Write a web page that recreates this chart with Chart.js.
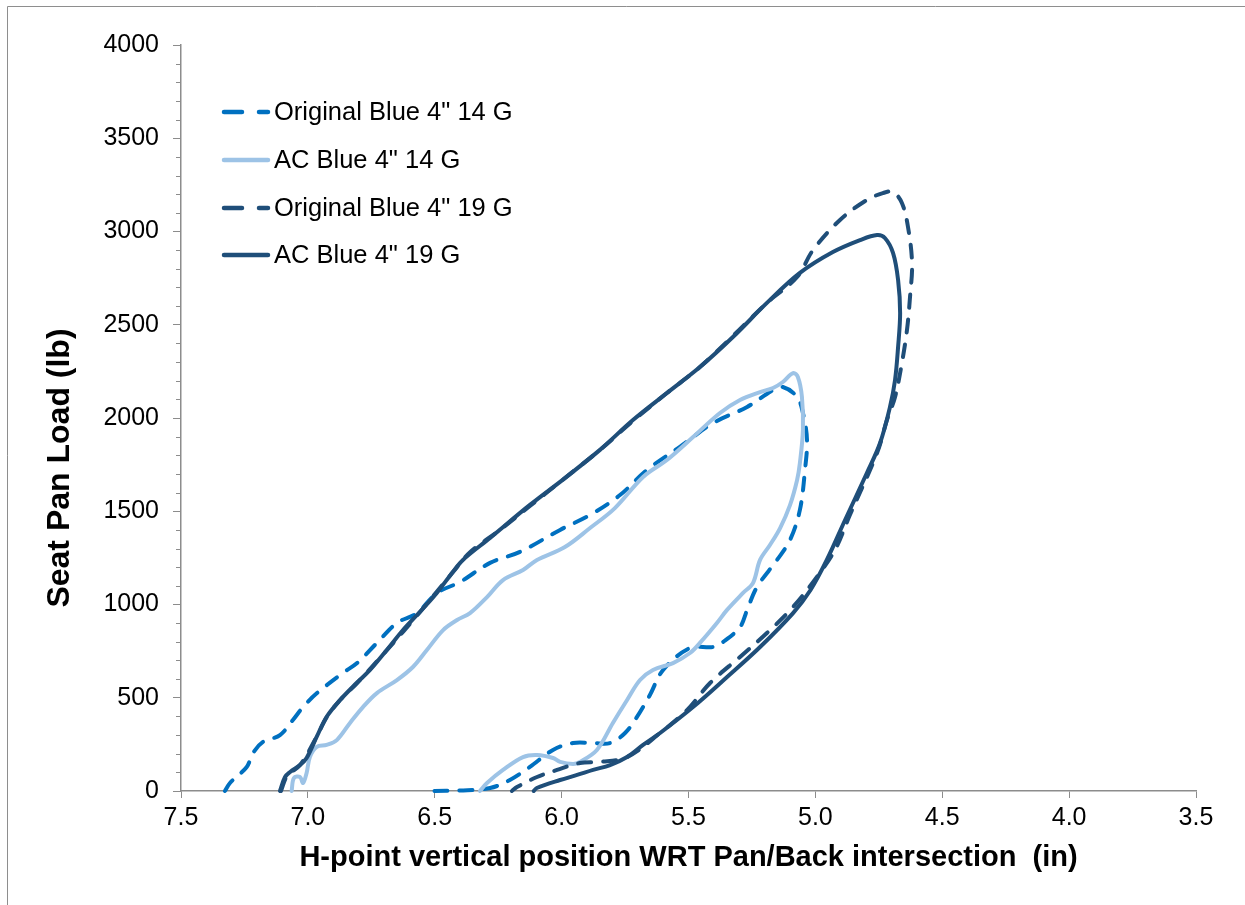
<!DOCTYPE html>
<html><head><meta charset="utf-8">
<script src="https://cdn.jsdelivr.net/npm/chart.js@4.4.1/dist/chart.umd.min.js"></script>
<style>html,body{margin:0;padding:0;background:#fff}</style>
</head><body>
<canvas id="c" width="1245" height="905" style="display:block;width:1245px;height:905px"></canvas>
<script>
// ---- data ----
const seriesNames = ['Original Blue 4" 14 G', 'AC Blue 4" 14 G', 'Original Blue 4" 19 G', 'AC Blue 4" 19 G'];

const orig14X = [7.327,7.307,7.241,7.216,7.177,7.110,7.059,7.019,6.964,6.862,6.806,6.728,6.649,6.570,6.491,6.400,6.282,6.164,6.006,5.888,5.770,5.664,5.534,5.403,5.269,5.167,5.128,5.072,5.049,5.033,5.041,5.061,5.100,5.151,5.230,5.269,5.297,5.364,5.403,5.494,5.600,5.652,5.703,5.750,5.809,5.876,5.955,6.034,6.125,6.204,6.282,6.400,6.511];
const orig14Y = [0,43,129,204,263,300,381,450,525,633,686,794,901,954,1062,1121,1223,1282,1400,1480,1587,1721,1845,1973,2059,2150,2166,2113,2027,1882,1721,1507,1346,1239,1094,971,879,799,772,767,649,515,397,311,257,257,257,220,129,59,16,3,0];

const ac14X = [7.064,7.055,7.031,7.019,7.005,6.992,6.965,6.926,6.886,6.834,6.783,6.728,6.649,6.586,6.531,6.467,6.412,6.361,6.294,6.231,6.152,6.097,5.987,5.888,5.790,5.679,5.585,5.482,5.376,5.297,5.218,5.167,5.128,5.088,5.069,5.053,5.049,5.061,5.072,5.100,5.139,5.179,5.218,5.246,5.285,5.348,5.388,5.455,5.494,5.561,5.640,5.691,5.742,5.798,5.861,5.928,5.955,6.006,6.034,6.097,6.152,6.231,6.294,6.322];
const ac14Y = [0,70,75,43,97,182,236,247,273,365,450,525,595,665,756,863,917,954,1040,1131,1185,1239,1308,1410,1517,1684,1775,1898,2027,2097,2139,2161,2193,2241,2220,2113,1936,1759,1668,1533,1410,1319,1239,1115,1062,971,901,794,740,686,649,595,488,365,220,156,145,156,177,193,182,113,43,0];

const orig19X = [7.106,7.082,7.031,6.968,6.925,6.873,6.806,6.688,6.558,6.428,6.361,6.243,6.125,5.987,5.849,5.719,5.585,5.455,5.325,5.191,5.072,5.009,4.903,4.797,4.734,4.694,4.659,4.635,4.619,4.627,4.639,4.659,4.686,4.718,4.757,4.864,4.923,4.994,5.088,5.191,5.297,5.415,5.506,5.612,5.742,5.849,5.928,6.018,6.097,6.176,6.196];
const orig19Y = [0,80,139,284,397,488,579,756,960,1174,1280,1400,1528,1678,1829,1984,2134,2273,2440,2617,2756,2901,3062,3169,3206,3212,3153,3024,2831,2649,2472,2295,2113,1989,1812,1480,1292,1148,987,847,719,579,434,311,182,156,150,113,75,21,0];

const ac19X = [7.110,7.090,7.070,7.031,7.005,6.965,6.926,6.873,6.808,6.755,6.689,6.625,6.558,6.492,6.428,6.389,6.282,6.125,5.987,5.849,5.719,5.585,5.455,5.325,5.191,5.061,4.931,4.824,4.757,4.726,4.694,4.674,4.666,4.674,4.686,4.706,4.745,4.797,4.883,4.955,5.019,5.088,5.218,5.348,5.482,5.612,5.679,5.742,5.809,5.876,5.939,6.006,6.098,6.110];
const ac19Y = [0,75,102,139,177,291,398,488,579,649,756,863,961,1062,1176,1239,1357,1534,1678,1829,1989,2134,2273,2434,2617,2778,2890,2954,2981,2965,2885,2740,2563,2381,2204,2059,1866,1705,1453,1239,1078,954,772,611,450,311,247,182,139,113,86,59,16,0];

const xTickValues = [7.5,7.0,6.5,6.0,5.5,5.0,4.5,4.0,3.5];
const yTickValues = [0,500,1000,1500,2000,2500,3000,3500,4000];
const xTitle = 'H-point vertical position WRT Pan/Back intersection  (in)';
const yTitle = 'Seat Pan Load (lb)';

// ---- styling ----
const colors = ['#0070C0', '#9DC3E6', '#1F4E79', '#1F4E79'];
const dashed = [true, false, true, false];
const DASH = [13, 12];
const AXIS = '#8C8C8C';
const FONT = '"Liberation Sans", Arial, sans-serif';

function pts(xs, ys){ return xs.map((x,i)=>({x:x, y:ys[i]})); }
const seriesData = [pts(orig14X,orig14Y), pts(ac14X,ac14Y), pts(orig19X,orig19Y), pts(ac19X,ac19Y)];

const datasets = seriesData.map((d,i)=>({
  label: seriesNames[i],
  data: d,
  showLine: true,
  borderColor: colors[i],
  backgroundColor: colors[i],
  borderWidth: 4,
  borderDash: dashed[i] ? DASH : [],
  borderCapStyle: 'round',
  borderJoinStyle: 'round',
  pointRadius: 0,
  tension: 0.35,
  fill: false,
  clip: 8,
  order: 3 - i
}));

const decor = {
  id: 'decor',
  beforeDraw(chart){
    const ctx = chart.ctx;
    ctx.save();
    ctx.fillStyle = '#fff';
    ctx.fillRect(0,0,chart.width,chart.height);
    ctx.strokeStyle = '#8E8E8E';
    ctx.lineWidth = 1;
    ctx.beginPath();
    ctx.moveTo(7.5, chart.height); ctx.lineTo(7.5, 6.5); ctx.lineTo(chart.width, 6.5);
    ctx.stroke();
    ctx.restore();
  },
  afterDraw(chart){
    const ctx = chart.ctx;
    const ys = chart.scales.y;
    const area = chart.chartArea;
    ctx.save();
    // minor y ticks
    ctx.strokeStyle = AXIS; ctx.lineWidth = 1;
    ctx.beginPath();
    for (let v = ys.min; v <= ys.max; v += 100) {
      if (v % 500 === 0) continue;
      const py = Math.round(ys.getPixelForValue(v)) + 0.5;
      ctx.moveTo(area.left - 5, py); ctx.lineTo(area.left, py);
    }
    ctx.stroke();
    // axis titles
    ctx.fillStyle = '#000';
    ctx.font = 'bold 29px ' + FONT;
    ctx.textAlign = 'center'; ctx.textBaseline = 'middle';
    ctx.fillText(xTitle, (area.left + area.right)/2, 858);
    ctx.save();
    ctx.translate(60, 468);
    ctx.rotate(-Math.PI/2);
    ctx.font = 'bold 32px ' + FONT;
    ctx.fillText(yTitle, 0, 0);
    ctx.restore();
    // legend
    const rows = [112, 160, 208, 255];
    chart.data.datasets.forEach((ds, i) => {
      const y = rows[i];
      ctx.save();
      ctx.strokeStyle = ds.borderColor;
      ctx.lineWidth = 4.5;
      ctx.lineCap = 'round';
      ctx.setLineDash(ds.borderDash.length ? [18, 17] : []);
      ctx.beginPath(); ctx.moveTo(224, y); ctx.lineTo(268, y); ctx.stroke();
      ctx.restore();
      ctx.fillStyle = '#000';
      ctx.font = '25.5px ' + FONT;
      ctx.textAlign = 'left'; ctx.textBaseline = 'middle';
      ctx.fillText(ds.label, 274, y + 1);
    });
    ctx.restore();
  }
};

new Chart(document.getElementById('c'), {
  type: 'scatter',
  data: { datasets },
  options: {
    responsive: false,
    animation: false,
    events: [],
    layout: { padding: { top: 45, right: 49, left: 0, bottom: 0 } },
    plugins: { legend: { display: false }, tooltip: { enabled: false }, title: { display: false } },
    scales: {
      x: {
        type: 'linear', reverse: true, min: 3.5, max: 7.5,
        afterBuildTicks: s => { s.ticks = xTickValues.map(v => ({ value: v })); },
        afterFit: s => { s.height = 114; },
        ticks: { color: '#000', font: { family: FONT, size: 25 }, padding: 5, maxRotation: 0, autoSkip: false,
                 callback: v => Number(v).toFixed(1) },
        grid: { drawOnChartArea: false, drawTicks: true, tickLength: 7, color: AXIS, tickColor: AXIS, tickWidth: 1 },
        border: { display: true, color: AXIS, width: 1.5 }
      },
      y: {
        type: 'linear', min: 0, max: 4000,
        afterBuildTicks: s => { s.ticks = yTickValues.map(v => ({ value: v })); },
        afterFit: s => { s.width = 181; },
        ticks: { color: '#000', font: { family: FONT, size: 25 }, padding: 14, autoSkip: false,
                 callback: v => String(v) },
        grid: { drawOnChartArea: false, drawTicks: true, tickLength: 8, color: AXIS, tickColor: AXIS, tickWidth: 1 },
        border: { display: true, color: AXIS, width: 1.5 }
      }
    }
  },
  plugins: [decor]
});
</script>
</body></html>
